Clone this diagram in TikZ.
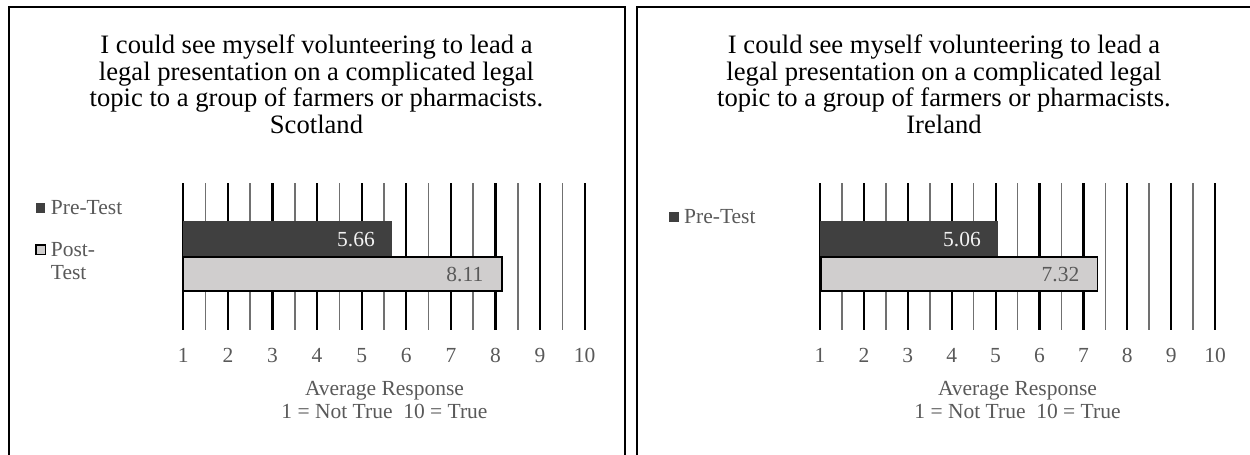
\documentclass[tikz,border=0pt]{standalone}
\usepackage{fontspec}
\setmainfont{Liberation Serif}
\definecolor{txtgray}{HTML}{595959}
\definecolor{predark}{HTML}{404040}
\definecolor{postlight}{HTML}{D0CECE}
\definecolor{halfgray}{HTML}{707070}
\definecolor{lbllight}{HTML}{F2F2F2}
\tikzset{
  panel/.style={draw=black, line width=2pt},
  titletext/.style={font=\fontsize{26.6}{26.7}\selectfont, inner sep=0pt, text=black},
  smalltext/.style={font=\fontsize{21.5}{23.3}\selectfont, text=txtgray, inner sep=0pt},
  majorline/.style={draw=black, line width=2.2pt},
  minorline/.style={draw=halfgray, line width=1.6pt},
  prebar/.style={fill=predark, draw=none},
  postbar/.style={fill=postlight, draw=black, line width=1.6pt},
  prekey/.style={fill=predark, draw=none},
  postkey/.style={fill=postlight, draw=black, line width=1.2pt},
}
\begin{document}
\begin{tikzpicture}[x=1pt,y=-1pt]
\useasboundingbox (0,0) rectangle (1250,455);
\clip (0,0) rectangle (1250,455);
% panels
\draw[panel] (9,456) -- (9,7) -- (625,7) -- (625,456);
\draw[panel] (637,456) -- (637,7) -- (1251,7) -- (1251,456);

% ---------- left panel (Scotland) ----------
\node[titletext, anchor=base] (ttlS) at (316.5,53.3) {\begin{tabular}[t]{@{}c@{}}I could see myself volunteering to lead a\\ legal presentation on a complicated legal\\ topic to a group of farmers or pharmacists.\\ Scotland\end{tabular}};
\foreach \k in {0,...,8} \draw[minorline] ({183.3+(\k+0.5)*44.6},183.3) -- ++(0,146.7);
\foreach \k in {0,...,9} \draw[majorline] ({183.3+\k*44.6},183.3) -- ++(0,146.7);
\foreach \k in {1,...,10} \node[smalltext, anchor=base] (sn\k) at ({183.3+(\k-1)*44.6},362.7) {\k};
\path[prebar] (183.3,221) rectangle (391.7,256.7);
\path[postbar] (183.3,256.7) rectangle (501.7,291);
\node[smalltext, text=lbllight, anchor=base east] (sv1) at (375,246.5) {5.66};
\node[smalltext, anchor=base east] (sv2) at (483.5,281.5) {8.11};
\node[smalltext, anchor=base] (sax) at (384.5,395) {\begin{tabular}[t]{@{}c@{}}Average Response\\ 1 = Not True\ \ 10 = True\end{tabular}};
\path[prekey] (36,203.3) rectangle (45.3,212.6);
\node[smalltext, anchor=base west] (slg1) at (50.7,214) {Pre-Test};
\path[postkey] (36,245) rectangle (45.3,254.3);
\node[smalltext, anchor=base west] (slg2) at (50.7,256.5) {\begin{tabular}[t]{@{}l@{}}Post-\\ Test\end{tabular}};

% ---------- right panel (Ireland) ----------
\node[titletext, anchor=base] (ttlI) at (944,53.3) {\begin{tabular}[t]{@{}c@{}}I could see myself volunteering to lead a\\ legal presentation on a complicated legal\\ topic to a group of farmers or pharmacists.\\ Ireland\end{tabular}};
\foreach \k in {0,...,8} \draw[minorline] ({820+(\k+0.5)*43.9},183.3) -- ++(0,146.7);
\foreach \k in {0,...,9} \draw[majorline] ({820+\k*43.9},183.3) -- ++(0,146.7);
\foreach \k in {1,...,10} \node[smalltext, anchor=base] (in\k) at ({820+(\k-1)*43.9},362.7) {\k};
\path[prebar] (820,221) rectangle (998.2,256.7);
\path[postbar] (820.8,256.7) rectangle (1097.4,291);
\node[smalltext, text=lbllight, anchor=base east] (iv1) at (981,246.5) {5.06};
\node[smalltext, anchor=base east] (iv2) at (1079.5,281.5) {7.32};
\node[smalltext, anchor=base] (iax) at (1017.5,395) {\begin{tabular}[t]{@{}c@{}}Average Response\\ 1 = Not True\ \ 10 = True\end{tabular}};
\path[prekey] (669.3,212.3) rectangle (678.6,221.6);
\node[smalltext, anchor=base west] (ilg1) at (684,223) {Pre-Test};
\end{tikzpicture}
\end{document}
